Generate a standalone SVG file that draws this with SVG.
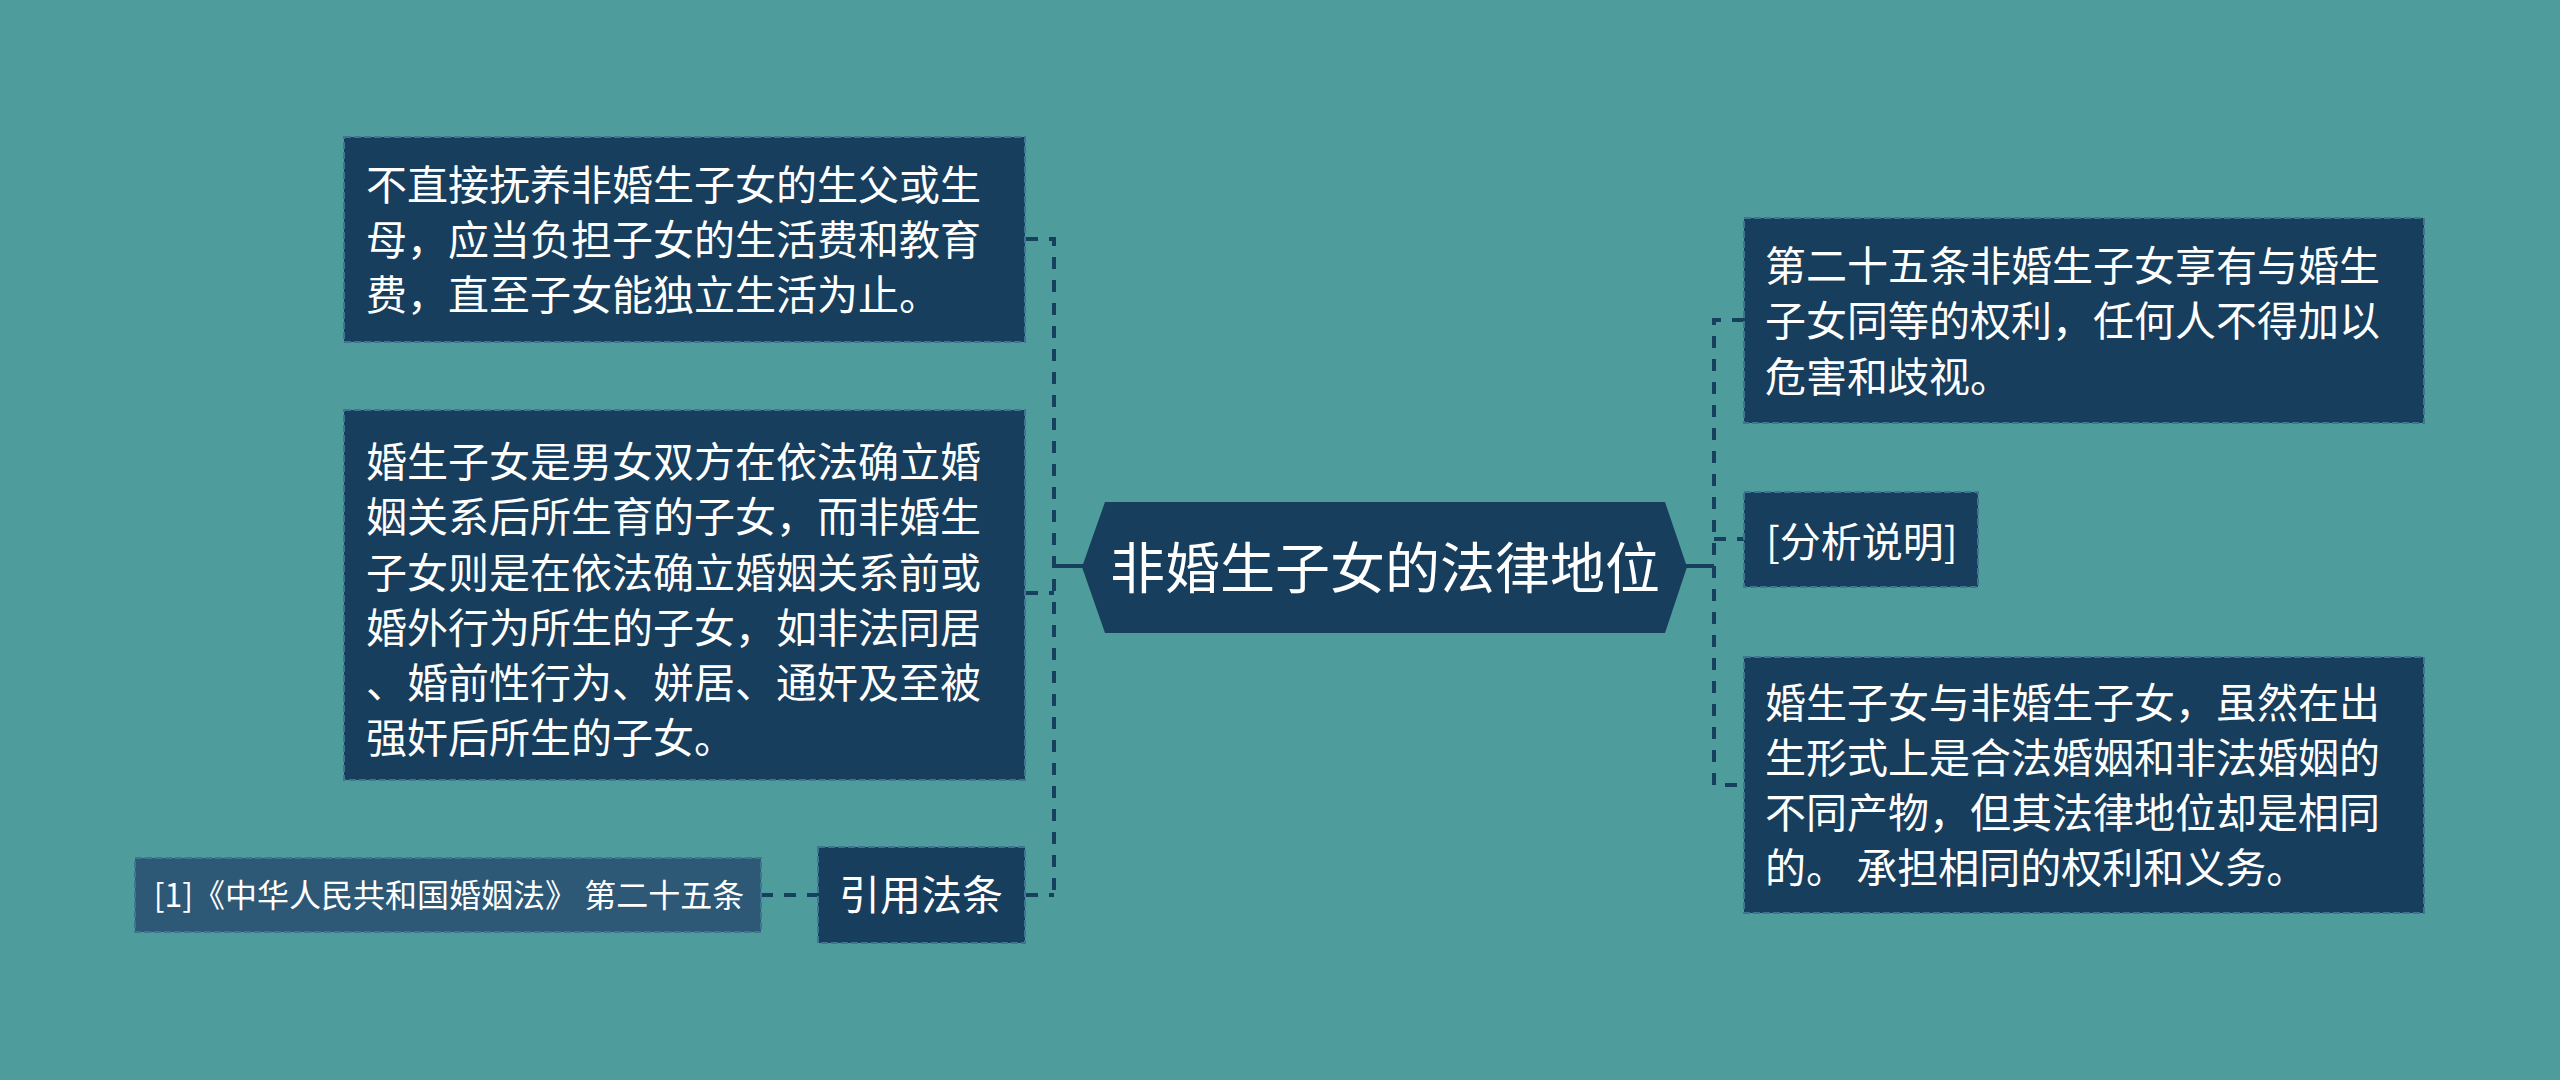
<svg xmlns="http://www.w3.org/2000/svg" width="2560" height="1080" viewBox="0 0 2560 1080">
<style>
.bg{fill:#4e9c9c}
.node{fill:#173e5d;stroke:#3f7590;stroke-width:2;stroke-dasharray:7 3}
.cite{fill:#2d5876;stroke:#3f7590;stroke-width:2;stroke-dasharray:7 3}
.t{fill:#ffffff;font-family:"Noto Sans CJK SC","Noto Sans",sans-serif;font-size:41px}
.tc{fill:#ffffff;font-family:"Noto Sans CJK SC","Noto Sans",sans-serif;font-size:55px}
.ts{fill:#ffffff;font-family:"Noto Sans CJK SC","Noto Sans",sans-serif;font-size:32px}
.dash{fill:none;stroke:#17405f;stroke-width:4;stroke-dasharray:12 11}
.solid{fill:none;stroke:#17405f;stroke-width:4}
</style>
<rect class="bg" x="0" y="0" width="2560" height="1080"/>
<g id="connectors">
<path class="dash" d="M1026,239 H1054 V895"/>
<path class="dash" d="M1026,593 H1054"/>
<path class="dash" d="M1026,895 H1054"/>
<path class="solid" d="M1054,566 H1084"/>
<path class="dash" d="M761,895 H818"/>
<path class="solid" d="M1685,566 H1714"/>
<path class="dash" d="M1744,320 H1714 V785 H1744"/>
<path class="dash" d="M1714,539 H1744"/>
</g>
<g id="central">
<polygon class="node" style="stroke:none" points="1082,567 1105,502 1665,502 1687,567 1665,633 1105,633"/>
<text class="tc" x="1385" y="588" text-anchor="middle">非婚生子女的法律地位</text>
</g>
<g id="node-l1">
<rect class="node" x="344" y="137" width="681" height="205"/>
<text class="t" x="366" y="200">不直接抚养非婚生子女的生父或生</text>
<text class="t" x="366" y="255">母，应当负担子女的生活费和教育</text>
<text class="t" x="366" y="310">费，直至子女能独立生活为止。</text>
</g>
<g id="node-l2">
<rect class="node" x="344" y="410" width="681" height="370"/>
<text class="t" x="366" y="477">婚生子女是男女双方在依法确立婚</text>
<text class="t" x="366" y="532">姻关系后所生育的子女，而非婚生</text>
<text class="t" x="366" y="588">子女则是在依法确立婚姻关系前或</text>
<text class="t" x="366" y="643">婚外行为所生的子女，如非法同居</text>
<text class="t" x="366" y="698">、婚前性行为、姘居、通奸及至被</text>
<text class="t" x="366" y="753">强奸后所生的子女。</text>
</g>
<g id="node-l3">
<rect class="node" x="818" y="847" width="207" height="96"/>
<text class="t" x="921" y="910" text-anchor="middle">引用法条</text>
</g>
<g id="node-cite">
<rect class="cite" x="135" y="858" width="626" height="74"/>
<text class="ts" x="449" y="907" text-anchor="middle">[1]《中华人民共和国婚姻法》 第二十五条</text>
</g>
<g id="node-r1">
<rect class="node" x="1744" y="218" width="680" height="205"/>
<text class="t" x="1765" y="281">第二十五条非婚生子女享有与婚生</text>
<text class="t" x="1765" y="336">子女同等的权利，任何人不得加以</text>
<text class="t" x="1765" y="392">危害和歧视。</text>
</g>
<g id="node-r2">
<rect class="node" x="1744" y="492" width="234" height="95"/>
<text class="t" x="1766" y="557">[分析说明]</text>
</g>
<g id="node-r3">
<rect class="node" x="1744" y="657" width="680" height="256"/>
<text class="t" x="1765" y="718">婚生子女与非婚生子女，虽然在出</text>
<text class="t" x="1765" y="773">生形式上是合法婚姻和非法婚姻的</text>
<text class="t" x="1765" y="828">不同产物，但其法律地位却是相同</text>
<text class="t" x="1765" y="883">的。 承担相同的权利和义务。</text>
</g>
</svg>
